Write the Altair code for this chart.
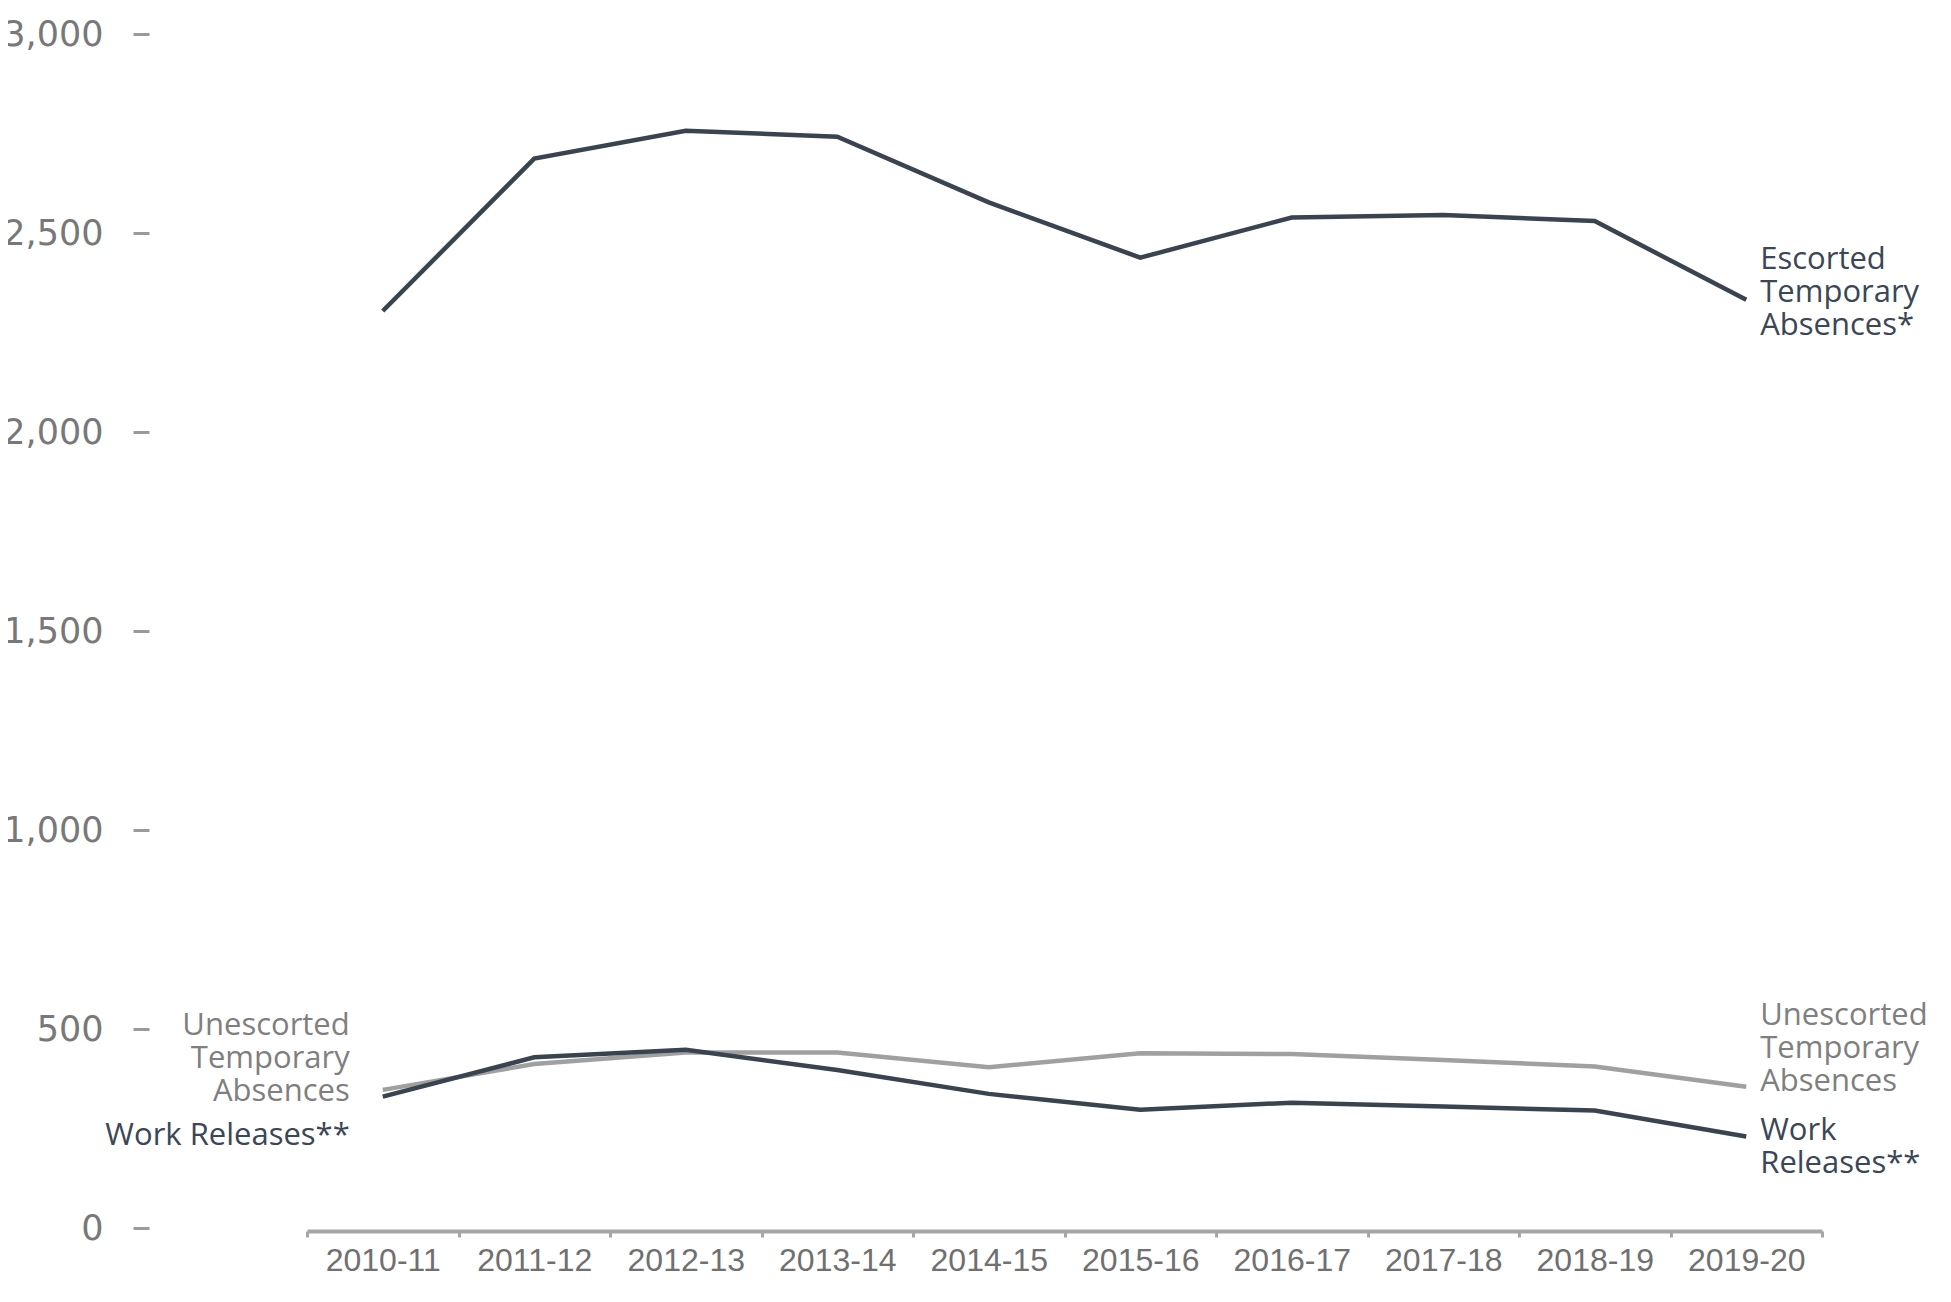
import altair as alt
import pandas as pd

years = ["2010-11", "2011-12", "2012-13", "2013-14", "2014-15",
         "2015-16", "2016-17", "2017-18", "2018-19", "2019-20"]
escorted = [2304, 2687, 2757, 2742, 2577, 2438, 2539, 2545, 2530, 2332]
unescorted = [347, 412, 441, 441, 404, 439, 437, 422, 406, 355]
work = [330, 429, 448, 397, 337, 297, 315, 305, 295, 230]

series_names = ["Unescorted Temporary Absences", "Escorted Temporary Absences*", "Work Releases**"]
series_colors = ["#a0a0a0", "#3a4350", "#3a4350"]

DARK_TEXT = "#3b4656"
GRAY_TEXT = "#7f7f7f"

rows = []
for name, vals in zip(series_names, [unescorted, escorted, work]):
    for y, v in zip(years, vals):
        rows.append({"year": y, "value": v, "series": name})
df = pd.DataFrame(rows)

x_enc = alt.X("year:N", sort=years, title=None,
              scale=alt.Scale(domain=years, paddingInner=0, paddingOuter=0),
              axis=alt.Axis(labelAngle=0, labelFont="Liberation Sans", labelFontSize=32,
                            labelColor="#707070", labelPadding=8,
                            domainColor="#a6a6a6", domainWidth=4,
                            tickColor="#a6a6a6", tickWidth=3, tickSize=6,
                            tickBand="extent", offset=3, grid=False))
y_enc = alt.Y("value:Q", title=None,
              scale=alt.Scale(domain=[0, 3000], nice=False, zero=True),
              axis=alt.Axis(values=[0, 500, 1000, 1500, 2000, 2500, 3000], format=",.0f",
                            labelFont="DejaVu Sans", labelFontSize=35, labelColor="#787878",
                            labelPadding=30, tickSize=16, tickWidth=3, tickColor="#9a9a9a",
                            domain=False, grid=False, offset=158))

lines = alt.Chart(df).mark_line(strokeWidth=4.5, strokeJoin="miter").encode(
    x=x_enc,
    y=y_enc,
    color=alt.Color("series:N", scale=alt.Scale(domain=series_names, range=series_colors), legend=None),
    order=alt.Order("year:N"),
)


def label(year, value, text, color, align, dx, dy):
    d = pd.DataFrame({"year": [year], "value": [value], "label": [text]})
    return alt.Chart(d).mark_text(
        align=align, baseline="alphabetic", font="Open Sans", fontSize=31,
        lineHeight=33, lineBreak="\n", color=color, dx=dx, dy=dy
    ).encode(
        x=alt.X("year:N", sort=years),
        y=alt.Y("value:Q"),
        text="label:N",
    )


labels = [
    label(years[-1], escorted[-1], "Escorted\nTemporary\nAbsences*", DARK_TEXT, "left", 14, -31),
    label(years[-1], unescorted[-1], "Unescorted\nTemporary\nAbsences", GRAY_TEXT, "left", 14, -62),
    label(years[-1], work[-1], "Work\nReleases**", DARK_TEXT, "left", 14, 4),
    label(years[0], unescorted[0], "Unescorted\nTemporary\nAbsences", GRAY_TEXT, "right", -33, -55),
    label(years[0], work[0], "Work Releases**", DARK_TEXT, "right", -33, 48),
]

chart = alt.layer(lines, *labels).properties(
    width=1515, height=1194,
    background="white",
    autosize=alt.AutoSizeParams(type="none"),
    padding={"left": 299, "top": 26, "right": 120, "bottom": 60},
).configure_view(strokeWidth=0, stroke="transparent")

chart.save("out.html", embed_options={"renderer": "svg", "actions": False})
